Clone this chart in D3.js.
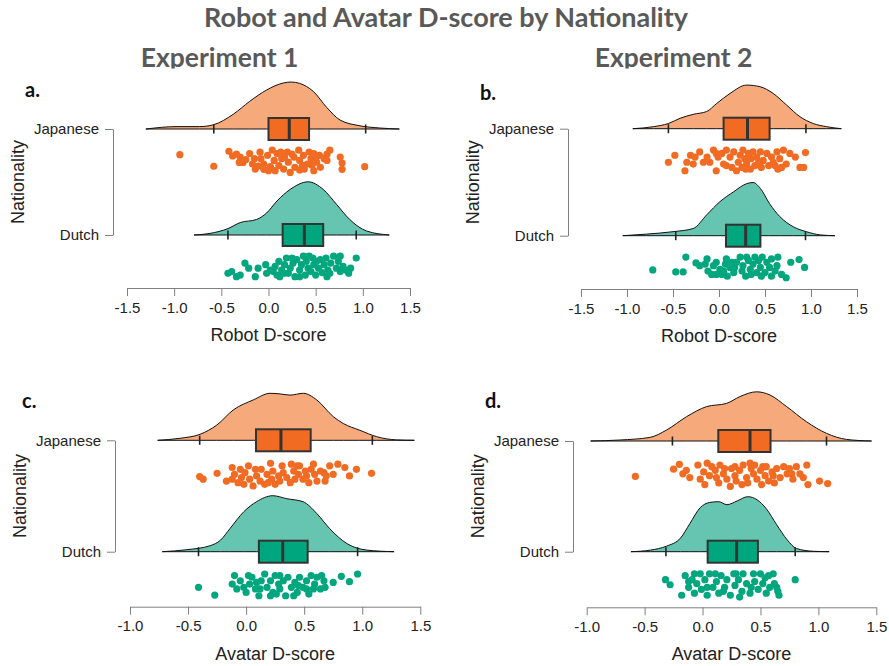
<!DOCTYPE html>
<html>
<head>
<meta charset="utf-8">
<script src="https://cdn.jsdelivr.net/npm/d3@7"></script>
<style>
  body { margin: 0; background: #fff; }
  svg { display: block; }
</style>
</head>
<body>
<svg id="chart" width="889" height="666"></svg>
<script>
// ---- data ----
const chartTitle = 'Robot and Avatar D-score by Nationality';
const experiments = ['Experiment 1', 'Experiment 2'];
const nationalities = ['Japanese', 'Dutch'];
const panelLetters = ['a.', 'b.', 'c.', 'd.'];
const axisTitles = ['Robot D-score', 'Robot D-score', 'Avatar D-score', 'Avatar D-score'];
const robotTicks = [-1.5, -1.0, -0.5, 0.0, 0.5, 1.0, 1.5];
const avatarTicks = [-1.0, -0.5, 0.0, 0.5, 1.0, 1.5];

// box stats: [lower whisker, q1, median, q3, upper whisker]
const aJapaneseBox = [-0.58, 0.0, 0.22, 0.43, 1.03];
const aDutchBox = [-0.43, 0.15, 0.38, 0.58, 0.93];
const bJapaneseBox = [-0.55, 0.05, 0.31, 0.55, 0.945];
const bDutchBox = [-0.47, 0.076, 0.29, 0.45, 0.94];
const cJapaneseBox = [-0.40, 0.085, 0.30, 0.556, 1.087];
const cDutchBox = [-0.41, 0.11, 0.315, 0.53, 0.96];
const dJapaneseBox = [-0.26, 0.136, 0.41, 0.587, 1.07];
const dDutchBox = [-0.316, 0.044, 0.294, 0.478, 0.80];

// density curves: [score, density]
const aJapaneseDensity = [[-1.30,0],[-0.97,0.06],[-0.73,0.06],[-0.585,0.105],[-0.37,0.375],[-0.20,0.69],[-0.02,0.975],[0.157,1.15],[0.24,1.175],[0.33,1.14],[0.475,0.94],[0.617,0.54],[0.758,0.225],[0.97,0.08],[1.18,0.025],[1.387,0]];
const aDutchDensity = [[-0.79,0],[-0.62,0.04],[-0.43,0.16],[-0.30,0.31],[-0.125,0.39],[-0.02,0.55],[0.09,0.85],[0.23,1.14],[0.42,1.33],[0.58,1.14],[0.72,0.77],[0.86,0.39],[1.04,0.1],[1.28,0]];
const bJapaneseDensity = [[-0.937,0],[-0.713,0.05],[-0.55,0.13],[-0.423,0.26],[-0.279,0.36],[-0.134,0.43],[-0.025,0.63],[0.119,0.88],[0.30,1.09],[0.445,1.05],[0.59,0.88],[0.735,0.59],[0.88,0.30],[1.024,0.13],[1.17,0.05],[1.33,0]];
const bDutchDensity = [[-1.046,0],[-0.785,0.04],[-0.5,0.1],[-0.28,0.18],[-0.13,0.53],[0.01,0.85],[0.16,1.1],[0.30,1.3],[0.37,1.33],[0.45,1.18],[0.55,0.8],[0.66,0.48],[0.81,0.22],[0.95,0.1],[1.10,0.02],[1.26,0]];
const cJapaneseDensity = [[-0.762,0],[-0.57,0.05],[-0.397,0.15],[-0.253,0.38],[-0.11,0.76],[0.062,1.01],[0.206,1.175],[0.292,1.16],[0.378,1.13],[0.493,1.175],[0.608,1.01],[0.751,0.59],[0.837,0.42],[0.98,0.25],[1.125,0.09],[1.297,0.01],[1.449,0]];
const cDutchDensity = [[-0.722,0],[-0.51,0.05],[-0.31,0.15],[-0.22,0.29],[-0.14,0.575],[-0.02,1.0],[0.09,1.25],[0.23,1.4],[0.35,1.325],[0.49,1.25],[0.61,0.95],[0.72,0.575],[0.87,0.2],[1.04,0.04],[1.274,0]];
const dJapaneseDensity = [[-0.966,0],[-0.713,0.025],[-0.454,0.09],[-0.31,0.275],[-0.137,0.61],[0.035,0.86],[0.208,0.94],[0.323,1.11],[0.467,1.23],[0.582,1.15],[0.726,0.86],[0.898,0.48],[1.071,0.19],[1.243,0.04],[1.459,0]];
const dDutchDensity = [[-0.618,0],[-0.45,0.04],[-0.31,0.14],[-0.19,0.34],[-0.11,0.7],[-0.02,1.1],[0.06,1.23],[0.14,1.25],[0.21,1.175],[0.30,1.27],[0.39,1.375],[0.47,1.3],[0.55,1.075],[0.64,0.675],[0.73,0.3],[0.81,0.08],[0.96,0.01],[1.093,0]];

// individual scores and their vertical jitter (0 = top of the rain, 1 = bottom)
const aJapanese = [-0.94,-0.58,-0.42,-0.38,-0.30,-0.31,-0.24,-0.20,-0.17,-0.14,-0.09,-0.08,-0.05,-0.01,0.00,0.04,0.06,0.09,0.11,0.14,0.16,0.20,0.21,0.23,0.27,0.28,0.32,0.33,0.37,0.38,0.41,0.43,0.45,0.48,0.48,0.51,0.54,0.55,0.59,0.62,0.65,0.76,0.78,0.78,1.02,-0.15,-0.11,0.02,0.13,0.25,0.36,0.46,0.07,-0.05,-0.34,-0.27,0.17,0.50,0.33,0.62];
const aJapaneseJitter = [0.2,0.72,0.05,0.26,0.31,0.55,0.42,0.15,0.62,0.85,0.09,0.38,0.62,0.23,0.92,0.0,0.46,0.15,0.69,0.38,0.85,0.08,0.54,1.0,0.31,0.77,0.0,0.46,0.23,0.85,0.62,0.08,0.38,0.15,0.92,0.54,0.23,0.77,0.38,0.46,0.0,0.31,0.58,0.86,0.74,0.38,0.71,0.74,0.08,0.18,0.68,0.68,0.92,0.86,0.18,0.55,0.31,0.31,0.89,0.18];
const aDutch = [-0.43,-0.39,-0.34,-0.30,-0.25,-0.21,-0.14,-0.11,-0.03,-0.02,0.02,0.07,0.09,0.11,0.14,0.17,0.19,0.21,0.23,0.26,0.28,0.30,0.33,0.35,0.37,0.39,0.40,0.42,0.45,0.47,0.48,0.50,0.53,0.55,0.57,0.59,0.61,0.63,0.66,0.69,0.72,0.74,0.76,0.79,0.81,0.85,0.87,0.93,0.33,0.25,0.05,0.51,0.62,0.65,0.43,0.12,0.76,0.17];
const aDutchJitter = [0.77,0.69,0.92,0.85,0.31,0.54,0.92,0.54,0.38,0.77,0.62,0.46,0.85,0.23,0.62,0.38,0.08,0.77,0.54,0.31,0.92,0.15,0.62,0.38,0,0.85,0.23,0.54,0.69,0.08,0.38,0.85,0.54,0.15,0.74,0.38,0.08,0.62,0.31,0,0.54,0.23,0,0.46,0.62,0.77,0.54,0.08,0.92,0.08,0.69,0.23,0.92,0.77,0,0.92,0.69,0.77];
const bJapanese = [-0.55,-0.48,-0.37,-0.35,-0.31,-0.28,-0.26,-0.21,-0.17,-0.10,-0.06,-0.03,-0.01,0.03,0.05,0.08,0.12,0.16,0.19,0.21,0.23,0.25,0.26,0.28,0.30,0.32,0.34,0.35,0.37,0.39,0.41,0.45,0.46,0.48,0.52,0.54,0.57,0.59,0.63,0.64,0.66,0.70,0.73,0.77,0.83,0.88,0.92,0.94,-0.03,0.14,0.43,0.61,0.29,0.08,-0.13,0.68];
const bJapaneseJitter = [0.54,0.23,0.92,0.54,0.23,0.62,0.31,0.08,0.54,0.54,0,0.92,0.31,0.15,0.62,0,0.31,0.08,0.92,0.54,0.23,0.77,0,0.38,0.62,0.15,0.85,0.38,0.08,0.69,0.31,0.08,0.77,0.46,0.15,0.69,0.31,0.54,0.08,0.85,0.38,0,0.62,0.15,0.31,0.77,0.77,0.11,0.15,0.77,0.54,0.69,0.85,0.69,0.31,0.77];
const bDutch = [-0.72,-0.47,-0.39,-0.36,-0.25,-0.21,-0.15,-0.12,-0.08,-0.06,-0.03,0.01,0.03,0.07,0.09,0.12,0.16,0.19,0.23,0.25,0.26,0.29,0.32,0.34,0.37,0.39,0.41,0.43,0.45,0.47,0.50,0.52,0.55,0.57,0.61,0.64,0.68,0.73,0.78,0.87,0.93,0.08,0.17,0.35,0.46,0.57,-0.03,-0.13,0.14,0.30,0.63,0.05];
const bDutchJitter = [0.57,0.66,0.66,0,0.26,0.38,0.31,0.62,0.77,0.38,0.23,0.54,0.77,0.31,0.85,0.46,0.69,0.23,0,0.62,0.38,0.85,0.15,0.54,0.31,0,0.69,0.15,0.46,0,0.69,0.23,0.46,0.08,0.62,0,0.77,0.92,0.23,0.11,0.46,0.08,0.46,0.77,0.85,0.85,0.77,0.08,0.23,0,0.38,0.62];
const cJapanese = [-0.40,-0.25,-0.17,-0.12,-0.10,-0.07,-0.05,-0.04,-0.01,0.02,0.03,0.09,0.12,0.13,0.16,0.18,0.21,0.22,0.23,0.25,0.28,0.29,0.32,0.35,0.39,0.41,0.42,0.45,0.46,0.49,0.51,0.52,0.54,0.58,0.59,0.61,0.64,0.67,0.68,0.72,0.75,0.79,0.85,0.89,0.95,1.08,-0.02,0.08,0.19,0.38,0.56,0.69,0.06,-0.12,0.44,0.31,-0.37];
const cJapaneseJitter = [0.6,0.46,0.79,0.21,0.5,0.86,0.29,0.64,0.43,0.14,0.71,0.57,0.79,0.29,0.93,0.5,0.03,0.71,0.36,0.93,0.57,0.79,0.43,0.64,0.07,0.36,0.71,0.5,0.14,0.71,0.36,0.57,0.86,0.07,0.5,0.79,0.36,0.43,0.79,0.14,0.5,0.07,0.21,0.57,0.29,0.46,0.93,0.29,0.86,0.86,0.29,0.57,1.0,0.71,0.14,0.14,0.71];
const cDutch = [-0.41,-0.27,-0.12,-0.10,-0.05,-0.02,0.0,0.03,0.05,0.08,0.11,0.13,0.16,0.18,0.21,0.23,0.25,0.28,0.29,0.32,0.34,0.36,0.39,0.42,0.44,0.46,0.49,0.52,0.54,0.56,0.59,0.61,0.64,0.67,0.68,0.75,0.82,0.89,0.96,0.12,0.26,0.41,0.58,-0.08,0.02,0.21,0.45,0.65,0.29,0.52,0.09];
const cDutchJitter = [0.57,0.9,0.43,0.07,0.29,0.57,0.79,0.43,0.14,0.64,0.93,0.29,0,0.57,0.29,0.79,0.07,0.43,0.64,0.29,0.93,0.14,0.57,0.36,0.79,0.14,0.57,0.29,0.86,0.07,0.43,0.14,0.64,0.29,0.57,0.36,0.1,0.33,0,0.64,0.86,0.93,0.64,0.64,0.07,0.93,0.5,0.07,0.07,0.64,0.36];
const dJapanese = [-0.58,-0.25,-0.20,-0.17,-0.14,-0.11,-0.04,-0.02,0.01,0.04,0.06,0.11,0.14,0.15,0.18,0.21,0.24,0.25,0.28,0.29,0.32,0.35,0.38,0.39,0.42,0.44,0.45,0.47,0.50,0.51,0.54,0.55,0.57,0.60,0.62,0.64,0.67,0.70,0.73,0.75,0.78,0.81,0.84,0.87,0.90,0.91,1.01,1.08,0.02,0.08,0.19,0.34,0.41,0.52,0.61,0.77,0.28,0.12];
const dJapaneseJitter = [0.57,0.26,0.05,0.46,0.31,0.62,0.08,0.69,0.38,0,0.54,0.31,0.85,0.08,0.46,0.69,1.0,0.23,0.54,0.77,0.31,0.08,0.62,0.85,0.23,0.46,0.08,0.69,0.31,0.92,0.54,0.15,0.77,0.38,0.85,0.23,0.62,0.15,0.46,0.23,0.69,0.15,0.46,0.62,0.08,0.92,0.77,0.88,0.92,0.15,0.23,0.92,0,0.15,0.54,0.46,0.15,0.62];
const dDutch = [-0.32,-0.28,-0.15,-0.12,-0.09,-0.07,-0.05,-0.02,-0.01,0.02,0.04,0.06,0.09,0.12,0.14,0.16,0.19,0.21,0.24,0.27,0.28,0.31,0.34,0.35,0.38,0.41,0.44,0.45,0.48,0.50,0.52,0.55,0.57,0.58,0.61,0.62,0.65,0.66,0.80,-0.18,0.04,0.18,0.29,0.42,0.54,-0.12,0.11,0.32,0.64,-0.07];
const dDutchJitter = [0.25,0.47,0.08,0.58,0.25,0.83,0.42,0,0.67,0.25,0.92,0,0.58,0.33,0.83,0.08,0.58,0.25,0.92,0,0.5,0.25,0.75,0,0.42,0.83,0,0.33,0.67,0,0.42,0.83,0.08,0.58,0,0.42,0.75,0.92,0.25,0.92,0.58,0.75,0,0.58,0.17,0.33,0,1.0,0.58,0];

// ---- styling & layout ----
const densityFill = { Japanese: '#f6a97b', Dutch: '#66c5b0' };
const boxFill = { Japanese: '#f26b23', Dutch: '#00a67d' };
const pointFill = { Japanese: '#f26b23', Dutch: '#00a67d' };
const greyText = '#595959';
const font = '"Liberation Sans", Arial, sans-serif';
const titleFont = 'Lato, "Open Sans", sans-serif';

const panels = [
  { range: [127, 410], ticks: robotTicks, cats: [129, 235], axisY: 288, yAxisX: 113, letterAt: [25, 97],
    groups: [[aJapaneseDensity, aJapaneseBox, aJapanese, aJapaneseJitter], [aDutchDensity, aDutchBox, aDutch, aDutchJitter]] },
  { range: [581, 857], ticks: robotTicks, cats: [128.7, 235.7], axisY: 289, yAxisX: 568, letterAt: [480, 100],
    groups: [[bJapaneseDensity, bJapaneseBox, bJapanese, bJapaneseJitter], [bDutchDensity, bDutchBox, bDutch, bDutchJitter]] },
  { range: [130, 420.3], ticks: avatarTicks, cats: [440.3, 551.7], axisY: 606.7, yAxisX: 115, letterAt: [22, 408],
    groups: [[cJapaneseDensity, cJapaneseBox, cJapanese, cJapaneseJitter], [cDutchDensity, cDutchBox, cDutch, cDutchJitter]] },
  { range: [586.7, 876.3], ticks: avatarTicks, cats: [441, 551.7], axisY: 607.3, yAxisX: 573, letterAt: [485, 408],
    groups: [[dJapaneseDensity, dJapaneseBox, dJapanese, dJapaneseJitter], [dDutchDensity, dDutchBox, dDutch, dDutchJitter]] },
];

const svg = d3.select('#chart');

// headings
svg.append('text').attr('x', 446).attr('y', 27).attr('text-anchor', 'middle')
  .style('font-family', titleFont).style('font-weight', 'bold').style('font-size', '27px')
  .style('fill', greyText).text(chartTitle);

svg.append('clipPath').attr('id', 'headClip').append('rect').attr('x', 0).attr('y', 0).attr('width', 889).attr('height', 68.5);
svg.append('g').attr('clip-path', 'url(#headClip)').selectAll('text').data(experiments).join('text')
  .attr('x', (d, i) => [219.5, 673.5][i]).attr('y', 67).attr('text-anchor', 'middle')
  .style('font-family', titleFont).style('font-weight', 'bold').style('font-size', '26.5px')
  .style('fill', greyText).text(d => d);

const hScale = d3.scaleLinear().domain([0, 1]).range([0, 40]);

panels.forEach((p, pi) => {
  const g = svg.append('g');
  const x = d3.scaleLinear().domain([p.ticks[0], p.ticks[p.ticks.length - 1]]).range(p.range);
  const y = d3.scalePoint().domain(nationalities).range(p.cats);
  const gap = p.cats[1] - p.cats[0];
  const rain = d3.scaleLinear().domain([0, 1]).range([0.2 * gap, 0.41 * gap]);

  // x axis
  const xa = g.append('g').attr('transform', `translate(0,${p.axisY})`)
    .call(d3.axisBottom(x).tickValues(p.ticks).tickFormat(d => d.toFixed(1)).tickSize(8).tickSizeOuter(0).tickPadding(6));
  xa.select('.domain').attr('stroke', '#808080');
  xa.selectAll('.tick line').attr('stroke', '#808080');
  xa.selectAll('.tick text').style('font-family', font).style('font-size', '15px').attr('fill', '#222');

  g.append('text').attr('x', (p.range[0] + p.range[1]) / 2).attr('y', p.axisY + 53).attr('text-anchor', 'middle')
    .style('font-family', font).style('font-size', '18px').style('fill', '#222').text(axisTitles[pi]);

  // y axis
  const ya = g.append('g').attr('transform', `translate(${p.yAxisX},0)`)
    .call(d3.axisLeft(y).tickSize(8).tickSizeOuter(0).tickPadding(6));
  ya.select('.domain').attr('stroke', '#808080');
  ya.selectAll('.tick line').attr('stroke', '#808080');
  ya.selectAll('.tick text').style('font-family', font).style('font-size', '15px').attr('fill', '#222');

  g.append('text').attr('transform', `translate(${p.yAxisX - 89},${(p.cats[0] + p.cats[1]) / 2}) rotate(-90)`)
    .attr('text-anchor', 'middle').style('font-family', font).style('font-size', '18px').style('fill', '#222')
    .text('Nationality');

  g.append('text').attr('x', p.letterAt[0]).attr('y', p.letterAt[1])
    .style('font-family', titleFont).style('font-weight', 'bold').style('font-size', '20px').style('fill', '#111')
    .text(panelLetters[pi]);

  nationalities.forEach((nat, ni) => {
    const [dens, box, scores, jitter] = p.groups[ni];
    const base = y(nat);

    // cloud
    const area = d3.area().curve(d3.curveMonotoneX)
      .x(d => x(d[0])).y0(base).y1(d => base - hScale(d[1]));
    g.append('path').datum(dens).attr('d', area)
      .attr('fill', densityFill[nat]).attr('stroke', '#111').attr('stroke-width', 1);

    // whisker ends
    g.selectAll(null).data([box[0], box[4]]).join('line')
      .attr('x1', d => x(d)).attr('x2', d => x(d)).attr('y1', base - 4.5).attr('y2', base + 4.5)
      .attr('stroke', '#222').attr('stroke-width', 1.6);

    // box + median
    g.append('rect').attr('x', x(box[1])).attr('width', x(box[3]) - x(box[1]))
      .attr('y', base - 11).attr('height', 22)
      .attr('fill', boxFill[nat]).attr('stroke', '#333').attr('stroke-width', 2);
    g.append('line').attr('x1', x(box[2])).attr('x2', x(box[2])).attr('y1', base - 11).attr('y2', base + 11)
      .attr('stroke', '#333').attr('stroke-width', 3);

    // rain
    g.selectAll(null).data(scores).join('circle')
      .attr('cx', d => x(d)).attr('cy', (d, i) => base + rain(jitter[i])).attr('r', 3.6)
      .attr('fill', pointFill[nat]);
  });
});
</script>
</body>
</html>
